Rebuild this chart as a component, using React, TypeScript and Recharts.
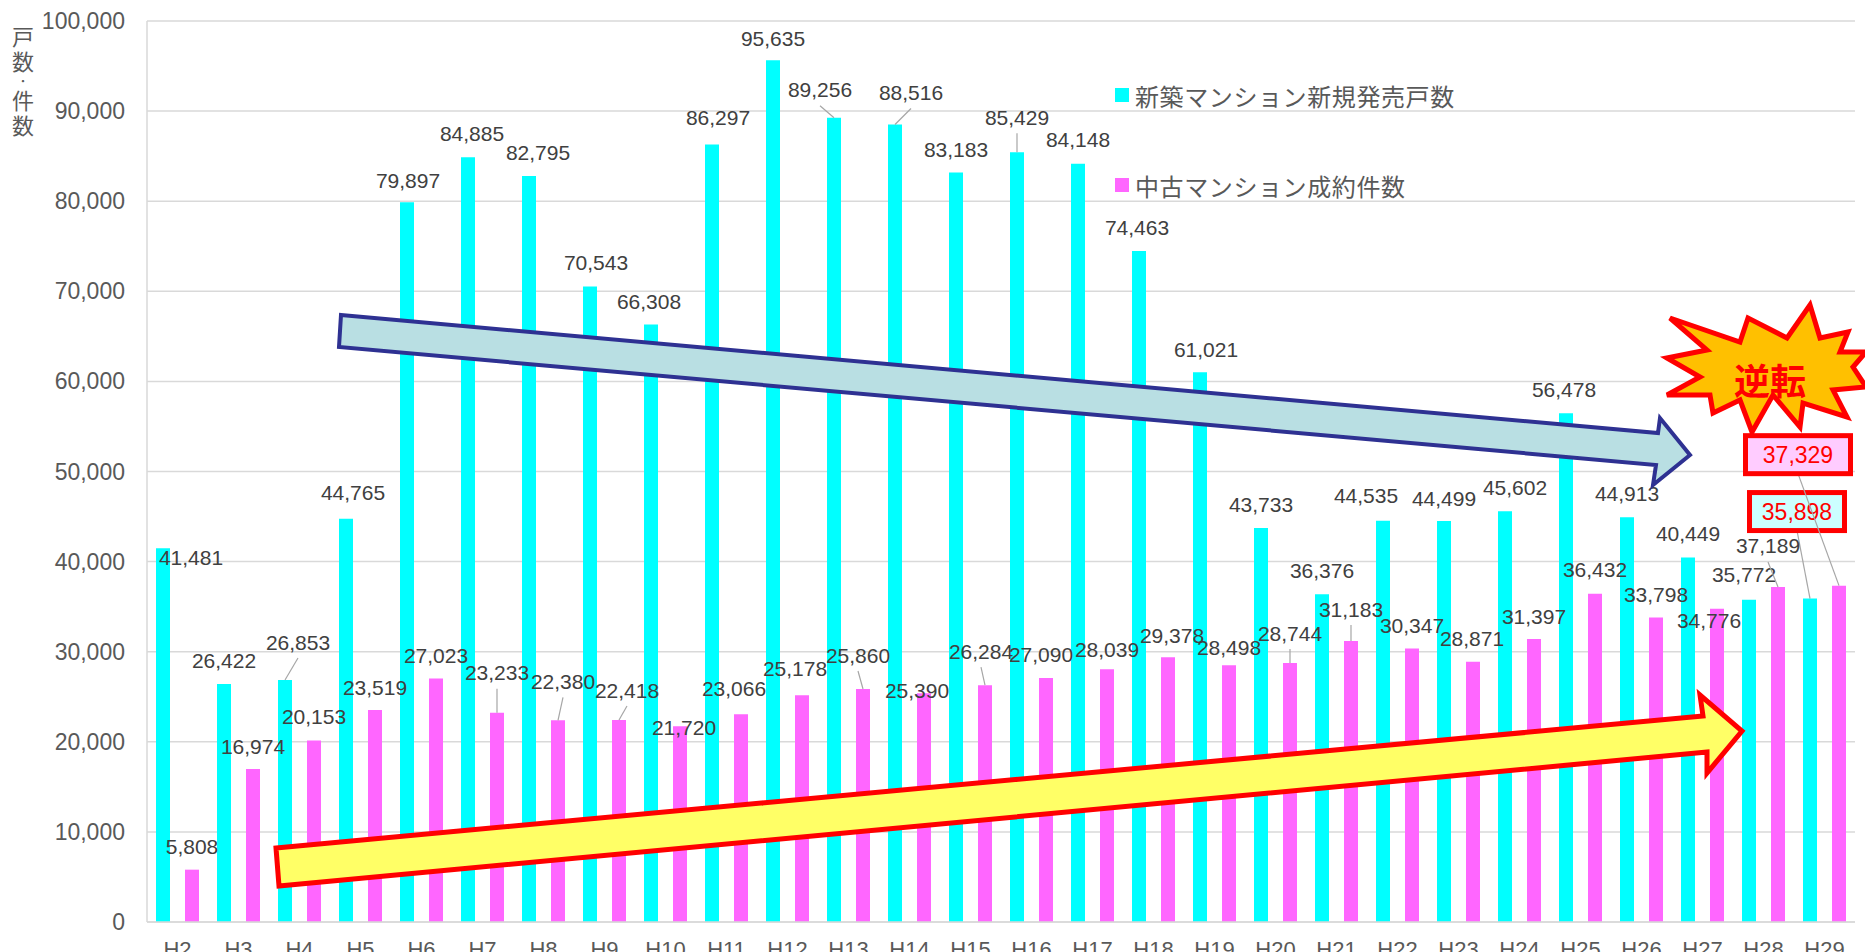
import React from 'react';
import { BarChart, Bar, XAxis, YAxis, CartesianGrid, LabelList } from 'recharts';

// 年度
const categories = ['H2', 'H3', 'H4', 'H5', 'H6', 'H7', 'H8', 'H9', 'H10', 'H11', 'H12', 'H13', 'H14', 'H15',
  'H16', 'H17', 'H18', 'H19', 'H20', 'H21', 'H22', 'H23', 'H24', 'H25', 'H26', 'H27', 'H28', 'H29'];

// 新築マンション新規発売戸数
const newBuild = [41481, 26422, 26853, 44765, 79897, 84885, 82795, 70543, 66308, 86297, 95635, 89256, 88516, 83183,
  85429, 84148, 74463, 61021, 43733, 36376, 44535, 44499, 45602, 56478, 44913, 40449, 35772, 35898];

// 中古マンション成約件数
const resale = [5808, 16974, 20153, 23519, 27023, 23233, 22380, 22418, 21720, 23066, 25178, 25860, 25390, 26284,
  27090, 28039, 29378, 28498, 28744, 31183, 30347, 28871, 31397, 36432, 33798, 34776, 37189, 37329];

const yTicks = [0, 10000, 20000, 30000, 40000, 50000, 60000, 70000, 80000, 90000, 100000];

// label nudges (dx, dy from bar top centre) and which labels get a leader line
const newDx = [28, 0, 13, 7, 1, 4, 9, 6, -2, 6, 0, -14, 16, 0, 0, 0, -2, 6, 0, 0, -17, 0, 10, -2, 0, 0, -5, -13];
const newDy = [9, -23, -38, -26, -22, -24, -24, -24, -23, -27, -22, -28, -32, -23, -35, -24, -24, -23, -23, -24, -25, -23, -24, -24, -24, -24, -25, -87];
const newLeader = ['H4', 'H13', 'H14', 'H16'];
const resDx = [0, 0, 0, 0, 0, 0, 5, 8, 4, -7, -7, -5, -7, -4, -5, 0, 4, 0, 0, 0, 0, -1, 0, 0, 0, -8, -10, -41];
const resDy = [-23, -23, -24, -23, -23, -40, -39, -30, 1, -26, -27, -34, -3, -34, -23, -20, -22, -18, -30, -32, -23, -23, -23, -24, -23, 12, -41, -131];
const resLeader = ['H7', 'H8', 'H9', 'H13', 'H15', 'H20', 'H21', 'H28'];

const data = categories.map((name, i) => ({ name, newBuild: newBuild[i], resale: resale[i] }));

const NUM_FONT = '"Liberation Sans", Arial, sans-serif';
const JP_FONT = '"Noto Sans CJK JP", "Noto Sans", sans-serif';
const CYAN = '#00FFFF';
const MAGENTA = '#FF66FF';
const GRID = '#D9D9D9';

const fmt = (v: number) => v.toLocaleString('en-US');

const makeLabel = (values: number[], dxs: number[], dys: number[], leaders: string[], boxFill: string, boxW: number) => (props: any) => {
  const vb = props.viewBox || {};
  const x = props.x ?? vb.x;
  const y = props.y ?? vb.y;
  const w = props.width ?? vb.width;
  let i = props.index;
  if (i === undefined || values[i] !== Number(props.value)) i = values.indexOf(Number(props.value));
  if (i < 0 || x === undefined) return null;
  const cx = x + w / 2;
  const lx = cx + dxs[i];
  const ly = y + dys[i];
  if (i === values.length - 1) {
    // boxed callout for the latest year
    return (
      <g>
        <line x1={lx} y1={ly + 19} x2={cx} y2={y} stroke="#A6A6A6" strokeWidth={1.2} />
        <rect x={lx - boxW / 2} y={ly - 19} width={boxW} height={38} fill={boxFill} stroke="#FF0000" strokeWidth={5} />
        <text x={lx} y={ly} textAnchor="middle" dominantBaseline="central" fontSize={23} fill="#FF0000" fontFamily={NUM_FONT}>
          {fmt(values[i])}
        </text>
      </g>
    );
  }
  return (
    <g>
      {leaders.includes(categories[i]) && (
        <line x1={lx} y1={ly + 16} x2={cx} y2={y} stroke="#A6A6A6" strokeWidth={1.2} />
      )}
      <text x={lx} y={ly} textAnchor="middle" dominantBaseline="central" fontSize={21} fill="#404040" fontFamily={NUM_FONT}>
        {fmt(values[i])}
      </text>
    </g>
  );
};

const YTick = ({ y, payload }: any) => (
  <text x={125} y={y} textAnchor="end" dominantBaseline="central" fontSize={23} fill="#595959" fontFamily={NUM_FONT}>
    {fmt(payload.value)}
  </text>
);

const XTick = ({ x, payload }: any) => (
  <text x={x} y={957} textAnchor="middle" fontSize={22} fill="#595959" fontFamily={NUM_FONT}>
    {payload.value}
  </text>
);

const legendItems = [
  { name: '新築マンション新規発売戸数', color: CYAN },
  { name: '中古マンション成約件数', color: MAGENTA },
];

const Overlay = () => (
  <svg width={1865} height={952} style={{ position: 'absolute', left: 0, top: 0, pointerEvents: 'none' }}>
    {/* y axis title, stacked vertically */}
    <g fill="#595959" fontFamily={JP_FONT} fontSize={22} textAnchor="middle" dominantBaseline="central">
      <text x={23} y={35}>戸</text>
      <text x={23} y={60}>数</text>
      <text x={23} y={80} fontSize={14}>･</text>
      <text x={23} y={99}>件</text>
      <text x={23} y={124}>数</text>
    </g>
    {/* legend */}
    {legendItems.map((it, k) => (
      <g key={it.name}>
        <rect x={1115} y={88 + k * 90} width={14} height={14} fill={it.color} />
        <text x={1135} y={95 + k * 90} dominantBaseline="central" fontSize={24} fill="#595959" fontFamily={JP_FONT} letterSpacing={0.6}>
          {it.name}
        </text>
      </g>
    ))}
    {/* downward trend arrow */}
    <polygon
      points="341,315 1658,433 1660,418 1690,455 1653,485 1656,465 339,347"
      fill="#B9DFE3" stroke="#2E3192" strokeWidth={4} strokeLinejoin="miter"
    />
    {/* upward trend arrow */}
    <polygon
      points="276,848 1703,716 1700,695 1742,731 1707,773 1707,752 279,886"
      fill="#FFFF66" stroke="#FF0000" strokeWidth={5} strokeLinejoin="miter"
    />
    {/* burst */}
    <polygon
      points="1667,358 1700,377 1667,395 1710,395 1713,413 1740,400 1752,432 1773,395 1800,427 1803,403 1847,417 1833,390 1866,387 1853,367 1866,352 1840,352 1848,332 1820,338 1810,305 1787,338 1748,318 1740,342 1670,318 1707,350"
      fill="#FFC000" stroke="#FF0000" strokeWidth={5} strokeLinejoin="miter"
    />
    <text x={1770} y={379} textAnchor="middle" dominantBaseline="central" fontSize={36} fontWeight="bold" fill="#FF0000" fontFamily={JP_FONT}>
      逆転
    </text>
  </svg>
);

export default function App() {
  return (
    <div style={{ position: 'absolute', left: 0, top: 0, width: 1865, height: 952, background: '#fff', overflow: 'hidden' }}>
      <BarChart
        width={1865}
        height={952}
        data={data}
        margin={{ top: 21, right: 10, left: 0, bottom: 0 }}
        barGap={15}
      >
        <CartesianGrid vertical={false} stroke={GRID} strokeWidth={1.5} />
        <XAxis
          dataKey="name"
          height={30}
          interval={0}
          tickLine={false}
          axisLine={{ stroke: GRID, strokeWidth: 1.5 }}
          tick={<XTick />}
        />
        <YAxis
          width={147}
          domain={[0, 100000]}
          ticks={yTicks}
          tickLine={false}
          axisLine={{ stroke: GRID, strokeWidth: 1.5 }}
          tick={<YTick />}
        />
        <YAxis
          yAxisId="right"
          orientation="right"
          width={0}
          domain={[0, 100000]}
          tick={false}
          tickLine={false}
          axisLine={{ stroke: GRID, strokeWidth: 1.5 }}
        />
        <Bar dataKey="newBuild" fill={CYAN} barSize={14} isAnimationActive={false}>
          <LabelList dataKey="newBuild" content={makeLabel(newBuild, newDx, newDy, newLeader, '#CCFFFF', 95)} />
        </Bar>
        <Bar dataKey="resale" fill={MAGENTA} barSize={14} isAnimationActive={false}>
          <LabelList dataKey="resale" content={makeLabel(resale, resDx, resDy, resLeader, '#FFCCFF', 105)} />
        </Bar>
      </BarChart>
      <Overlay />
    </div>
  );
}
